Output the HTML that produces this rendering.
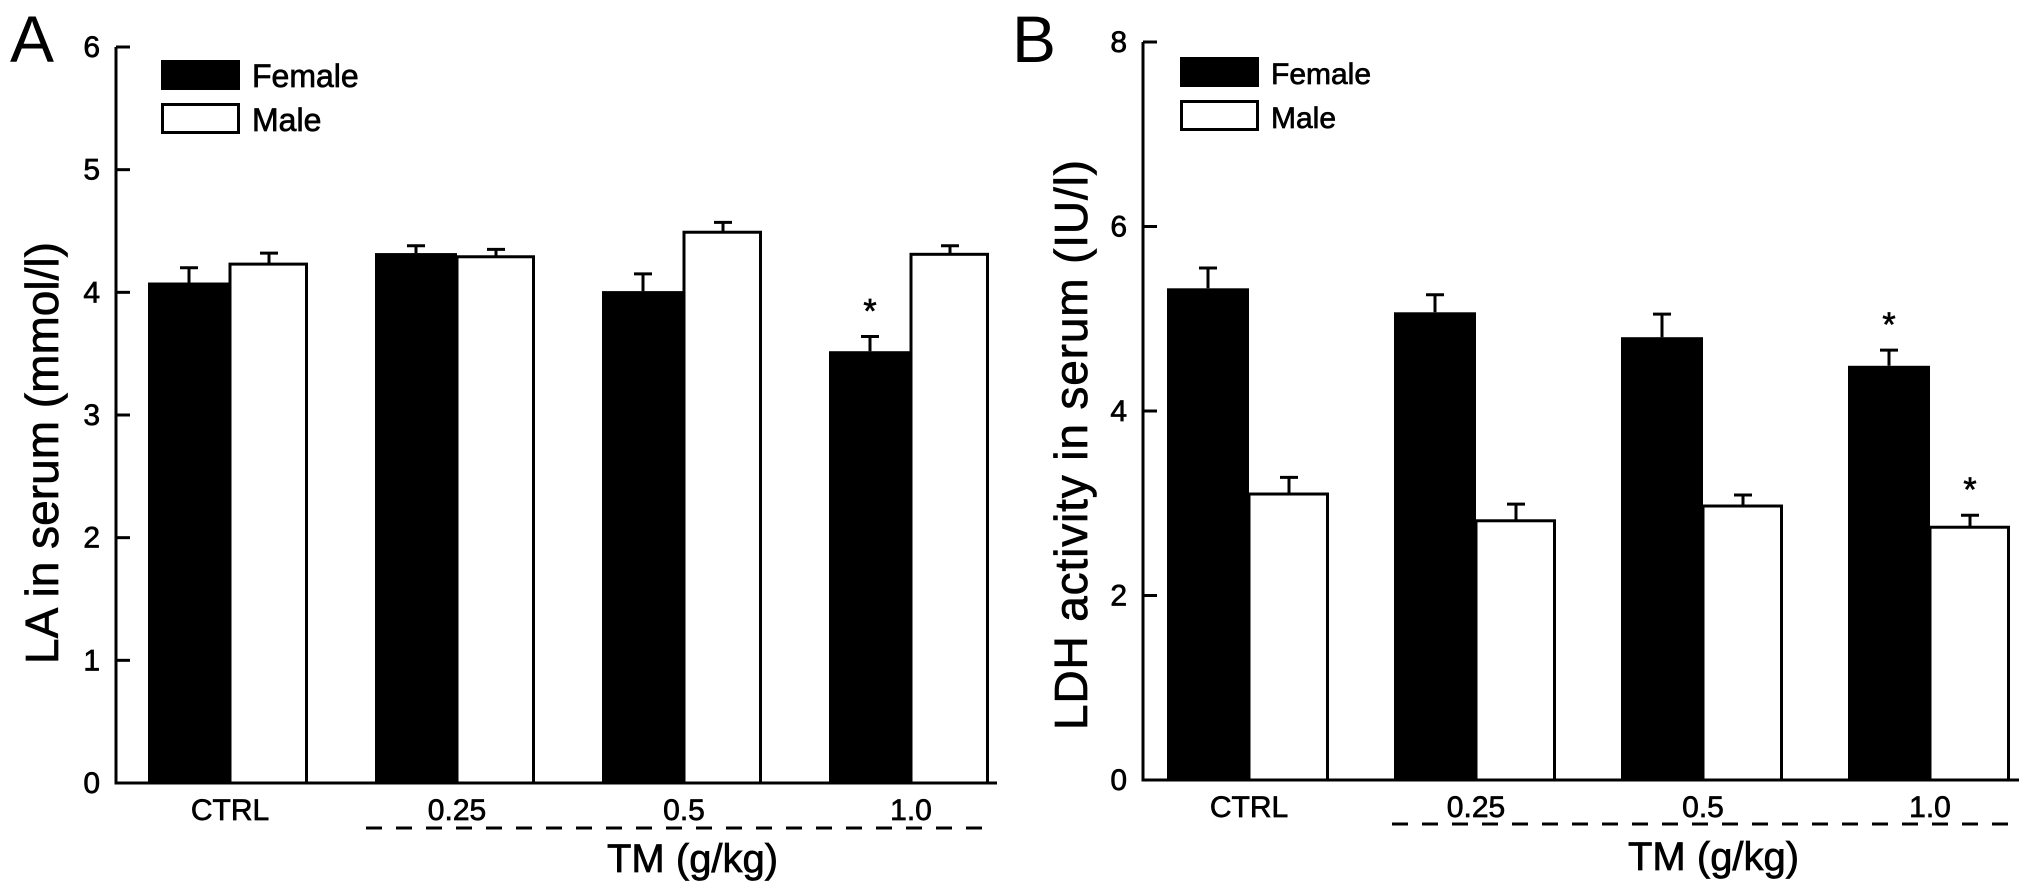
<!DOCTYPE html>
<html><head><meta charset="utf-8"><style>
html,body{margin:0;padding:0;background:#fff;}
svg{display:block;font-family:"Liberation Sans",Arial,sans-serif;}
svg text.b{stroke:#000;stroke-width:0.7px;}
</style></head><body>
<svg id="fig" width="2031" height="894" viewBox="0 0 2031 894" xmlns="http://www.w3.org/2000/svg"></svg>
<script>
const categories = ["CTRL","0.25","0.5","1.0"];
const laFemale = [4.08,4.32,4.01,3.52];
const laFemaleErr = [4.20,4.38,4.15,3.64];
const laMale = [4.23,4.29,4.49,4.31];
const laMaleErr = [4.32,4.35,4.57,4.38];
const laStarsF = [false,false,false,true];
const laStarsM = [false,false,false,false];
const laTicks = [0,1,2,3,4,5,6];
const ldhFemale = [5.33,5.07,4.80,4.49];
const ldhFemaleErr = [5.55,5.26,5.05,4.66];
const ldhMale = [3.10,2.81,2.97,2.74];
const ldhMaleErr = [3.28,2.99,3.09,2.87];
const ldhStarsF = [false,false,false,true];
const ldhStarsM = [false,false,false,true];
const ldhTicks = [0,2,4,6,8];

const NS="http://www.w3.org/2000/svg";
const svg=document.getElementById('fig');
function mk(tag,attrs,parent,text){const e=document.createElementNS(NS,tag);for(const k in attrs)e.setAttribute(k,attrs[k]);if(text!==undefined)e.textContent=text;(parent||svg).appendChild(e);return e;}

function panel(cfg){
  const g=mk('g',{});
  
  
  const y=v=>cfg.y0-(v-cfg.min)/(cfg.max-cfg.min)*(cfg.y0-cfg.yTop);
  const xF=i=>cfg.x0+i*cfg.step;
  categories.forEach((c,i)=>{
    const fx=xF(i), mx=fx+cfg.fw;
    const ef=mk('path',{d:`M${fx+cfg.fw/2},${y(cfg.female[i])} V${y(cfg.femaleErr[i])} M${fx+cfg.fw/2-9},${y(cfg.femaleErr[i])} H${fx+cfg.fw/2+9}`,stroke:'#000','stroke-width':3,fill:'none'},g);
    
    
    const em=mk('path',{d:`M${mx+cfg.mw/2},${y(cfg.male[i])} V${y(cfg.maleErr[i])} M${mx+cfg.mw/2-9},${y(cfg.maleErr[i])} H${mx+cfg.mw/2+9}`,stroke:'#000','stroke-width':3,fill:'none'},g);
    
    
    const bf=mk('rect',{x:fx,y:y(cfg.female[i]),width:cfg.fw,height:cfg.y0-y(cfg.female[i]),fill:'#000'},g);
    
    
    const bm=mk('rect',{x:mx,y:y(cfg.male[i]),width:cfg.mw-1.5,height:cfg.y0-y(cfg.male[i]),fill:'#fff',stroke:'#000','stroke-width':3},g);
    
    
    if(cfg.starsF[i]){const s=mk('text',{x:fx+cfg.fw/2,y:y(cfg.femaleErr[i])-14,'font-size':34,'text-anchor':'middle',class:'b'},g,'*');
      
      }
    if(cfg.starsM[i]){const s=mk('text',{x:mx+cfg.mw/2,y:y(cfg.maleErr[i])-14,'font-size':34,'text-anchor':'middle',class:'b'},g,'*');
      
      }
    const lb=mk('text',{x:mx,y:cfg.y0+37,'font-size':30,'text-anchor':'middle',class:'b'},g,c);
    
    
  });
  const ax=mk('path',{d:`M${cfg.ax},${cfg.yTop} V${cfg.y0} H${cfg.xEnd}`,stroke:'#000','stroke-width':3,fill:'none'},g);
  
  
  cfg.ticks.forEach(t=>{
    const tk=mk('line',{x1:cfg.ax,x2:cfg.ax+14,y1:y(t),y2:y(t),stroke:'#000','stroke-width':3},g);
    
    
    const tl=mk('text',{x:cfg.ax-16,y:y(t)+10,'font-size':cfg.tickFont,'text-anchor':'end',class:'b'},g,String(t));
    
    
  });
  const dl=mk('line',{x1:cfg.dashStart,x2:cfg.dashEnd,y1:cfg.dashY,y2:cfg.dashY,stroke:'#000','stroke-width':3,'stroke-dasharray':'16 14'},g);
  
  
  const xt=mk('text',{x:cfg.tmX,y:cfg.tmY,'font-size':40,class:'b'},g,'TM (g/kg)');
  
  
  const yt=mk('text',{x:0,y:0,'font-size':46,'text-anchor':'middle',textLength:cfg.ylen,lengthAdjust:'spacing',class:'b',transform:`translate(${cfg.ylx},${cfg.yly}) rotate(-90)`},g,cfg.ylabel);
  
  
  const pl=mk('text',{x:cfg.letterX,y:cfg.letterY,'font-size':66,'font-weight':'300'},g,cfg.letter);
  
  
  const lf=mk('rect',{x:cfg.lgX,y:cfg.lgY,width:79,height:30,fill:'#000'},g);
  
  
  const lm=mk('rect',{x:cfg.lgX+1.5,y:cfg.lgY+44.5,width:76,height:28,fill:'#fff',stroke:'#000','stroke-width':3},g);
  
  
  const tf=mk('text',{x:cfg.lgX+91,y:cfg.lgY+27,'font-size':cfg.lgFont,class:'b'},g,'Female');
  
  
  const tm=mk('text',{x:cfg.lgX+91,y:cfg.lgY+71,'font-size':cfg.lgFont,class:'b'},g,'Male');
  
  
}

panel({name:'panel-a-la',female:laFemale,femaleErr:laFemaleErr,male:laMale,maleErr:laMaleErr,starsF:laStarsF,starsM:laStarsM,ticks:laTicks,
  min:0,max:6,y0:783,yTop:47,ax:116,xEnd:997,x0:148,step:227,fw:82,mw:78,tickFont:30,
  dashStart:366,dashEnd:990,dashY:828,tmX:607,tmY:872,ylabel:'LA in serum (mmol/l)',ylen:422,ylx:58,yly:453,
  letter:'A',letterX:10,letterY:62,lgX:161,lgY:60,lgFont:32});
panel({name:'panel-b-ldh',female:ldhFemale,femaleErr:ldhFemaleErr,male:ldhMale,maleErr:ldhMaleErr,starsF:ldhStarsF,starsM:ldhStarsM,ticks:ldhTicks,
  min:0,max:8,y0:780,yTop:42,ax:1143,xEnd:2019,x0:1167,step:227,fw:82,mw:80,tickFont:30,
  dashStart:1392,dashEnd:2013,dashY:824,tmX:1628,tmY:870,ylabel:'LDH  activity  in  serum  (IU/l)',ylen:570,ylx:1087,yly:445,
  letter:'B',letterX:1012,letterY:62,lgX:1180,lgY:57,lgFont:30});
</script>
</body></html>
